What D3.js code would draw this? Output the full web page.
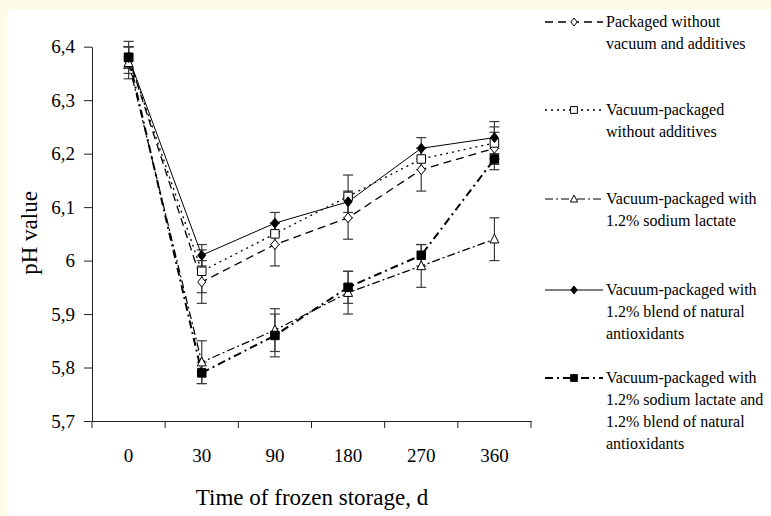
<!DOCTYPE html>
<html>
<head>
<meta charset="utf-8">
<script src="https://cdn.jsdelivr.net/npm/d3@7"></script>
<style>
  body { margin: 0; background: #fefbe8; }
  svg { display: block; font-family: "Liberation Serif", "Times New Roman", serif; }
</style>
</head>
<body>
<svg id="chart" width="771" height="516"></svg>
<script>
// storage days (categorical axis)
const days = ["0", "30", "90", "180", "270", "360"];
const yTicks = [5.7, 5.8, 5.9, 6.0, 6.1, 6.2, 6.3, 6.4];

// pH means and error bars per treatment
const noVacuum = [6.38, 5.96, 6.03, 6.08, 6.17, 6.21];
const noVacuumErr = [0.02, 0.04, 0.04, 0.04, 0.04, 0.03];
const vacuum = [6.38, 5.98, 6.05, 6.12, 6.19, 6.22];
const vacuumErr = [0.02, 0.04, 0.02, 0.04, 0.02, 0.03];
const lactate = [6.37, 5.81, 5.87, 5.94, 5.99, 6.04];
const lactateErr = [0.03, 0.04, 0.04, 0.04, 0.04, 0.04];
const antiox = [6.38, 6.01, 6.07, 6.11, 6.21, 6.23];
const antioxErr = [0.02, 0.02, 0.02, 0.02, 0.02, 0.03];
const lactAntiox = [6.38, 5.79, 5.86, 5.95, 6.01, 6.19];
const lactAntioxErr = [0.03, 0.02, 0.04, 0.03, 0.02, 0.02];

const legendLabels = [
  ["Packaged without", "vacuum and additives"],
  ["Vacuum-packaged", "without additives"],
  ["Vacuum-packaged with", "1.2% sodium lactate"],
  ["Vacuum-packaged with", "1.2% blend of natural", "antioxidants"],
  ["Vacuum-packaged with", "1.2% sodium lactate and", "1.2% blend of natural", "antioxidants"]
];

// series styles
const series = [
  { values: noVacuum, err: noVacuumErr, symbol: "diamond", filled: false, dash: "8,5", width: 1.3 },
  { values: vacuum, err: vacuumErr, symbol: "square", filled: false, dash: "2,4", width: 1.3 },
  { values: lactate, err: lactateErr, symbol: "triangle", filled: false, dash: "8,3,2,3", width: 1.2 },
  { values: antiox, err: antioxErr, symbol: "diamond", filled: true, dash: null, width: 1 },
  { values: lactAntiox, err: lactAntioxErr, symbol: "square", filled: true, dash: "8,4,2,4", width: 2 }
];
series.forEach((s, i) => s.label = legendLabels[i]);

const svg = d3.select("#chart");

// white panel inside cream border
svg.append("rect").attr("x", 7).attr("y", 10).attr("width", 764).attr("height", 506).attr("fill", "#fff");

const x = d3.scaleBand().domain(days).range([92, 531]).padding(0);
const y = d3.scaleLinear().domain([5.7, 6.4]).range([421, 46.7]);

// y axis
const fmt = d => d3.format(".2~f")(d).replace(".", ",");
svg.append("g")
  .attr("transform", "translate(92,0)")
  .call(d3.axisLeft(y).tickValues(yTicks).tickFormat(fmt).tickSize(8).tickSizeOuter(0).tickPadding(9))
  .call(g => g.selectAll("text").attr("font-size", 19).attr("fill", "#000").attr("font-family", "Liberation Serif"))
  .call(g => g.selectAll("line,path").attr("stroke", "#222"));

// x axis: labels at band centres, ticks at band edges
const xg = svg.append("g")
  .attr("transform", "translate(0,421)")
  .call(d3.axisBottom(x).tickSize(0).tickSizeOuter(0).tickPadding(28))
  .call(g => g.selectAll("text").attr("font-size", 19).attr("fill", "#000").attr("font-family", "Liberation Serif"))
  .call(g => g.select(".domain").attr("stroke", "#222"));
xg.selectAll(".edge")
  .data(d3.range(days.length + 1))
  .join("line")
  .attr("x1", i => x.range()[0] + i * x.step())
  .attr("x2", i => x.range()[0] + i * x.step())
  .attr("y1", 0).attr("y2", 7)
  .attr("stroke", "#222");

// axis titles
svg.append("text")
  .attr("x", 312).attr("y", 505)
  .attr("text-anchor", "middle")
  .attr("font-size", 23)
  .text("Time of frozen storage, d");
svg.append("text")
  .attr("transform", "translate(37,233) rotate(-90)")
  .attr("text-anchor", "middle")
  .attr("font-size", 23)
  .text("pH value");

function symbolPath(type, size) {
  const h = size / 2;
  if (type === "diamond") return `M0,${-h}L${h * 0.8},0L0,${h}L${-h * 0.8},0Z`;
  if (type === "square") return `M${-h * 0.85},${-h * 0.85}h${h * 1.7}v${h * 1.7}h${-h * 1.7}Z`;
  return `M0,${-h}L${h * 0.9},${h * 0.75}L${-h * 0.9},${h * 0.75}Z`;
}

const cx = d => x(d) + x.bandwidth() / 2;

// error bars
const eb = svg.append("g").attr("stroke", "#3a3a3a").attr("stroke-width", 1.2);
series.forEach(s => {
  days.forEach((d, i) => {
    const v = s.values[i], e = s.err[i];
    eb.append("line").attr("x1", cx(d)).attr("x2", cx(d)).attr("y1", y(v - e)).attr("y2", y(v + e));
    eb.append("line").attr("x1", cx(d) - 5).attr("x2", cx(d) + 5).attr("y1", y(v - e)).attr("y2", y(v - e));
    eb.append("line").attr("x1", cx(d) - 5).attr("x2", cx(d) + 5).attr("y1", y(v + e)).attr("y2", y(v + e));
  });
});

// lines
const line = d3.line().x((v, i) => cx(days[i])).y(v => y(v));
series.forEach(s => {
  svg.append("path")
    .attr("d", line(s.values))
    .attr("fill", "none")
    .attr("stroke", "#000")
    .attr("stroke-width", s.width)
    .attr("stroke-dasharray", s.dash);
});

// markers
series.forEach(s => {
  svg.append("g").selectAll("path")
    .data(s.values)
    .join("path")
    .attr("transform", (v, i) => `translate(${cx(days[i])},${y(v)})`)
    .attr("d", symbolPath(s.symbol, 10))
    .attr("fill", s.filled ? "#000" : "#fff")
    .attr("stroke", "#000")
    .attr("stroke-width", 1);
});

// legend
const legendTop = [22, 110, 199, 290, 378];
const lg = svg.append("g");
series.forEach((s, k) => {
  const ly = legendTop[k];
  lg.append("line")
    .attr("x1", 545).attr("x2", 603).attr("y1", ly).attr("y2", ly)
    .attr("stroke", "#000").attr("stroke-width", s.width)
    .attr("stroke-dasharray", s.dash);
  lg.append("path")
    .attr("transform", `translate(574,${ly})`)
    .attr("d", symbolPath(s.symbol, 8))
    .attr("fill", s.filled ? "#000" : "#fff")
    .attr("stroke", "#000");
  s.label.forEach((t, j) => {
    lg.append("text")
      .attr("x", 606).attr("y", ly + 5 + j * 22)
      .attr("font-size", 16)
      .text(t);
  });
});
</script>
</body>
</html>
